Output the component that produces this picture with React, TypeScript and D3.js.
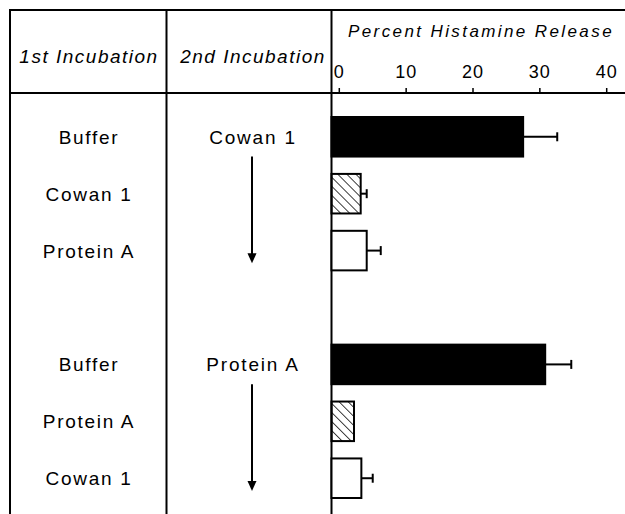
import * as d3 from 'd3';

// rows of the table (slot "gap" is the empty row between the two groups)
const slots = ['a0', 'a1', 'a2', 'gap', 'b0', 'b1', 'b2'];
const firstIncubation = ['Buffer', 'Cowan 1', 'Protein A', 'Buffer', 'Protein A', 'Cowan 1'];
const secondIncubation = ['Cowan 1', 'Protein A'];
const barSlots = ['a0', 'a1', 'a2', 'b0', 'b1', 'b2'];
const releaseMean = [27.5, 3.2, 4.1, 30.8, 2.2, 3.3];
const releaseErr = [32.6, 4.1, 6.2, 34.7, null, 5.0];
const barKind = ['solid', 'hatch', 'open', 'solid', 'hatch', 'open'];
const ticks = [0, 10, 20, 30, 40];

const W = 625;
const H = 514;
const FONT = '"Liberation Sans", Arial, Helvetica, sans-serif';

export default function App() {
  const left = 10;
  const col2 = 166.5;
  const axisX = 331.5;
  const top = 10;
  const headBottom = 93;

  const x = d3.scaleLinear().domain([0, 40]).range([339.3, 606.7]);
  const y = d3.scaleBand<string>().domain(slots).range([117, 498]).paddingInner(0.305).paddingOuter(0);
  const bw = y.bandwidth();

  const col1Center = 88;
  const col2Center = 252;

  return (
    <svg width={W} height={H} style={{ position: 'absolute', left: 0, top: 0, background: '#fff' }}>
      <defs>
        <pattern id="hatch" patternUnits="userSpaceOnUse" width={6.4} height={6.4} patternTransform="rotate(-45)">
          <line x1={0} y1={0} x2={0} y2={6.4} stroke="#000" strokeWidth={1.5} />
        </pattern>
      </defs>

      {/* table frame */}
      <g stroke="#000" strokeWidth={2} fill="none">
        <line x1={left} y1={top} x2={W} y2={top} />
        <line x1={left} y1={headBottom} x2={W} y2={headBottom} />
        <line x1={left} y1={top - 1} x2={left} y2={H} />
        <line x1={col2} y1={top} x2={col2} y2={H} />
        <line x1={axisX} y1={top} x2={axisX} y2={H} />
      </g>

      {/* headers */}
      <g fontFamily={FONT} fontStyle="italic" fill="#000">
        <text x={col1Center + 1} y={63} fontSize={19} letterSpacing={1.5} textAnchor="middle">1st Incubation</text>
        <text x={col2Center + 1} y={63} fontSize={19} letterSpacing={1.5} textAnchor="middle">2nd Incubation</text>
        <text x={481} y={37} fontSize={17} letterSpacing={2.4} textAnchor="middle">Percent Histamine Release</text>
      </g>

      {/* x axis ticks */}
      <g fontFamily={FONT} fontSize={18} fill="#000">
        {ticks.map((t) => (
          <g key={t}>
            <line x1={x(t)} x2={x(t)} y1={headBottom} y2={headBottom - 5} stroke="#000" strokeWidth={1.5} />
            <text x={x(t)} y={78} textAnchor="middle" letterSpacing={1}>{t}</text>
          </g>
        ))}
      </g>

      {/* first incubation labels */}
      <g fontFamily={FONT} fontSize={19} fill="#000" textAnchor="middle" letterSpacing={1.7}>
        {barSlots.map((s, i) => (
          <text key={s} x={col1Center + 1} y={(y(s) ?? 0) + bw / 2 + 7}>{firstIncubation[i]}</text>
        ))}
      </g>

      {/* second incubation labels + arrows */}
      {secondIncubation.map((lab, g) => {
        const s0 = g === 0 ? 'a0' : 'b0';
        const s2 = g === 0 ? 'a2' : 'b2';
        const y0 = (y(s0) ?? 0) + bw;
        const y1 = (y(s2) ?? 0) + bw - 7;
        return (
          <g key={lab}>
            <text x={col2Center + 1} y={(y(s0) ?? 0) + bw / 2 + 7} fontFamily={FONT} fontSize={19}
              letterSpacing={1.8} textAnchor="middle">{lab}</text>
            <line x1={col2Center} x2={col2Center} y1={y0} y2={y1 - 8} stroke="#000" strokeWidth={2} />
            <path d={`M${col2Center - 4.5},${y1 - 10} L${col2Center + 4.5},${y1 - 10} L${col2Center},${y1} Z`} fill="#000" />
          </g>
        );
      })}

      {/* bars */}
      {barSlots.map((s, i) => {
        const by = y(s) ?? 0;
        const xe = x(releaseMean[i]);
        const kind = barKind[i];
        const err = releaseErr[i];
        return (
          <g key={s}>
            <rect x={axisX} y={by} width={xe - axisX} height={bw}
              fill={kind === 'solid' ? '#000' : kind === 'hatch' ? 'url(#hatch)' : '#fff'}
              stroke="#000" strokeWidth={2} />
            {err != null && (
              <g stroke="#000" strokeWidth={2}>
                <line x1={xe} x2={x(err)} y1={by + bw / 2} y2={by + bw / 2} />
                <line x1={x(err)} x2={x(err)} y1={by + bw / 2 - 4.5} y2={by + bw / 2 + 4.5} />
              </g>
            )}
          </g>
        );
      })}
    </svg>
  );
}
